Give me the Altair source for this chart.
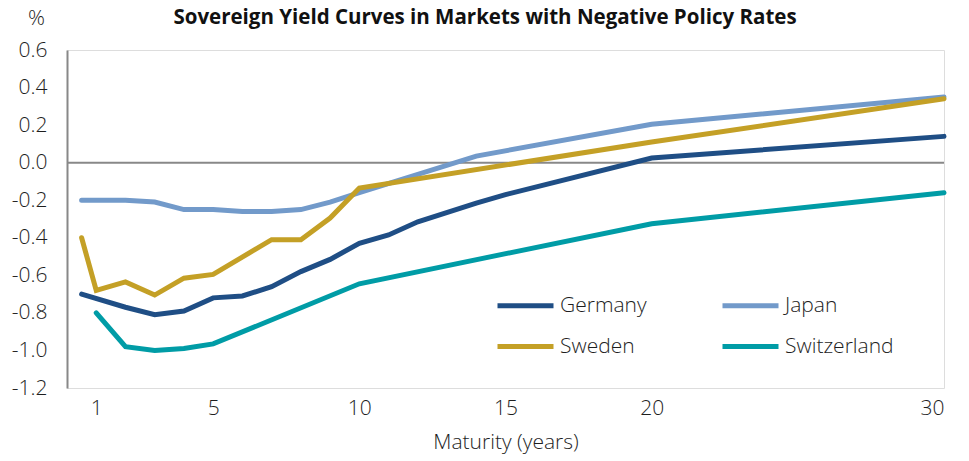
import altair as alt
import pandas as pd

# Sovereign yield curves (per cent) by maturity in years
germany_years = [0.5, 2, 3, 4, 5, 6, 7, 8, 9, 10, 11, 12, 14, 15, 20, 30]
germany_yield = [-0.70, -0.77, -0.81, -0.79, -0.72, -0.71, -0.66, -0.58, -0.515,
                 -0.43, -0.385, -0.315, -0.215, -0.17, 0.025, 0.14]

japan_years = [0.5, 2, 3, 4, 5, 6, 7, 8, 9, 10, 14, 20, 30]
japan_yield = [-0.20, -0.20, -0.21, -0.25, -0.25, -0.26, -0.26, -0.25, -0.21,
               -0.16, 0.035, 0.205, 0.35]

sweden_years = [0.5, 1, 2, 3, 4, 5, 7, 8, 9, 10, 20, 30]
sweden_yield = [-0.40, -0.68, -0.635, -0.705, -0.615, -0.595, -0.41, -0.41,
                -0.295, -0.135, 0.11, 0.34]

switzerland_years = [1, 2, 3, 4, 5, 10, 20, 30]
switzerland_yield = [-0.80, -0.98, -1.0, -0.99, -0.965, -0.645, -0.325, -0.16]

countries = ["Germany", "Japan", "Sweden", "Switzerland"]
colors = ["#1F4E85", "#729ACA", "#C4A026", "#009CA6"]

x_ticks = [1, 5, 10, 15, 20, 30]
y_ticks = [-1.2, -1.0, -0.8, -0.6, -0.4, -0.2, 0.0, 0.2, 0.4, 0.6]

chart_title = "Sovereign Yield Curves in Markets with Negative Policy Rates"
unit_text = "%"

series = [
    ("Germany", germany_years, germany_yield),
    ("Japan", japan_years, japan_yield),
    ("Sweden", sweden_years, sweden_yield),
    ("Switzerland", switzerland_years, switzerland_yield),
]
rows = []
for name, yrs, vals in series:
    for order, (m, v) in enumerate(zip(yrs, vals)):
        rows.append({"country": name, "maturity": m, "yield": v, "order": order})
df = pd.DataFrame(rows)

FONT = "Open Sans"
TEXT = "#1E1E1E"
AXIS_GREY = "#888888"
FS = 21

x_enc = alt.X(
    "maturity:Q",
    scale=alt.Scale(domain=[0, 30], nice=False, zero=False),
    axis=alt.Axis(
        values=x_ticks, domain=False, ticks=False, grid=False,
        labelFontSize=FS, labelPadding=9, labelColor=TEXT, labelFont=FONT,
        labelFontWeight=300, labelOverlap=False,
        title="Maturity (years)", titleFontSize=FS, titleFontWeight=300,
        titleColor=TEXT, titleFont=FONT, titlePadding=13,
    ),
)

y_enc = alt.Y(
    "yield:Q",
    scale=alt.Scale(domain=[-1.2, 0.6], nice=False, zero=False),
    axis=alt.Axis(
        values=y_ticks, grid=False, ticks=False, tickSize=0,
        domainColor=AXIS_GREY, domainWidth=2,
        labelFontSize=FS, labelPadding=20, labelColor=TEXT, labelFont=FONT,
        labelFontWeight=300, labelOverlap=False,
        labelExpr="replace(format(datum.value, '.1f'), '−', '-')",
        title=None,
    ),
)

# Chart heading and the unit marker above the value axis
heading = alt.Chart(pd.DataFrame({"t": [chart_title]})).mark_text(
    font=FONT, fontSize=20.5, fontWeight="bold", color="#111111",
    align="center", baseline="middle",
).encode(text="t:N", x=alt.value(418), y=alt.value(-32))

unit_label = alt.Chart(pd.DataFrame({"t": [unit_text]})).mark_text(
    font=FONT, fontSize=FS, fontWeight=300, color=TEXT, align="left",
    baseline="alphabetic",
).encode(text="t:N", x=alt.value(-39), y=alt.value(-25))

# Horizontal reference line at zero, sharing the value axis of the curves
zero_line = alt.Chart(pd.DataFrame({"yield": [0.0]})).mark_rule(
    color=AXIS_GREY, strokeWidth=2
).encode(y=y_enc)

lines = alt.Chart(df).mark_line(strokeWidth=5, strokeCap="round").encode(
    x=x_enc,
    y=y_enc,
    order="order:Q",
    color=alt.Color(
        "country:N",
        scale=alt.Scale(domain=countries, range=colors),
        legend=alt.Legend(
            title=None, orient="none", legendX=428, legendY=225,
            direction="horizontal", columns=2, symbolType="stroke",
            symbolSize=3136, symbolStrokeWidth=5, labelFontSize=FS,
            labelFont=FONT, labelFontWeight=300, labelColor=TEXT,
            labelOffset=4, columnPadding=65, rowPadding=-33,
        ),
    ),
)

chart = (
    alt.layer(zero_line, lines, heading, unit_label)
    .properties(
        width=877,
        height=338,
        padding={"left": 67, "top": 50, "right": 25, "bottom": 73},
        autosize=alt.AutoSizeParams(type="none"),
    )
    .configure_view(stroke=None)
    .configure(background="white")
)

chart.save("out.html", embed_options={"renderer": "svg", "actions": False})
